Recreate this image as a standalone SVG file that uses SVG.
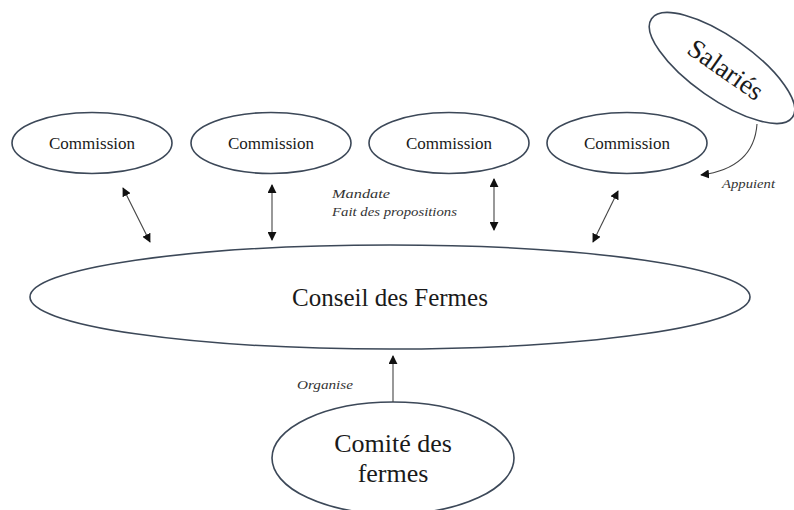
<svg xmlns="http://www.w3.org/2000/svg" width="794" height="510" viewBox="0 0 794 510">
<style>
.node{fill:#ffffff;stroke:#3c4858;stroke-width:1.6}
.lbl{fill:#1a1a1a;text-anchor:middle}
.it{font-style:italic;fill:#333333}
.conn{fill:none;stroke:#444444;stroke-width:1.1}
</style>
<defs>
<marker id="ah" viewBox="0 0 10 10" refX="9" refY="5" markerWidth="9" markerHeight="9" markerUnits="userSpaceOnUse" orient="auto-start-reverse">
<path d="M0,0 L10,5 L0,10 Z" fill="#111111"/>
</marker>
</defs>
<rect width="794" height="510" fill="#ffffff"/>
<g font-family="'Liberation Serif', 'Times New Roman', serif">
<g id="commission1"><ellipse class="node" cx="92" cy="143" rx="80" ry="30.5"/><text class="lbl" x="92" y="149" font-size="17">Commission</text></g>
<g id="commission2"><ellipse class="node" cx="271" cy="143" rx="80" ry="30.5"/><text class="lbl" x="271" y="149" font-size="17">Commission</text></g>
<g id="commission3"><ellipse class="node" cx="449" cy="143" rx="80" ry="30.5"/><text class="lbl" x="449" y="149" font-size="17">Commission</text></g>
<g id="commission4"><ellipse class="node" cx="627" cy="143" rx="80" ry="30.5"/><text class="lbl" x="627" y="149" font-size="17">Commission</text></g>

<g id="salaries"><ellipse class="node" cx="722" cy="68" rx="86" ry="31" transform="rotate(35 722 68)"/><text class="lbl" x="724" y="78" font-size="27" transform="rotate(35 724 72)">Salariés</text></g>

<g id="conseil"><ellipse class="node" cx="390" cy="297" rx="360" ry="52"/><text class="lbl" x="390" y="306" font-size="25">Conseil des Fermes</text></g>

<g id="comite"><ellipse class="node" cx="393" cy="458" rx="121" ry="56"/><text class="lbl" x="393" y="452" font-size="26">Comité des</text><text class="lbl" x="393" y="482" font-size="26">fermes</text></g>

<g id="connectors">
<line class="conn" x1="123" y1="188" x2="150" y2="242" marker-start="url(#ah)" marker-end="url(#ah)"/>
<line class="conn" x1="272" y1="185" x2="272" y2="240" marker-start="url(#ah)" marker-end="url(#ah)"/>
<line class="conn" x1="494" y1="179" x2="494" y2="230" marker-start="url(#ah)" marker-end="url(#ah)"/>
<line class="conn" x1="618" y1="191" x2="593" y2="242" marker-start="url(#ah)" marker-end="url(#ah)"/>
<path class="conn" d="M757,124 Q754,168 701,175" marker-end="url(#ah)"/>
<line class="conn" x1="393" y1="402" x2="393" y2="356" marker-end="url(#ah)"/>
</g>

<g id="labels">
<text class="it" x="332" y="198" font-size="13" textLength="58" lengthAdjust="spacingAndGlyphs">Mandate</text>
<text class="it" x="332" y="216" font-size="13" textLength="125" lengthAdjust="spacingAndGlyphs">Fait des propositions</text>
<text class="it" x="297" y="389" font-size="13" textLength="56" lengthAdjust="spacingAndGlyphs">Organise</text>
<text class="it" x="722" y="188" font-size="13" textLength="53" lengthAdjust="spacingAndGlyphs">Appuient</text>
</g>
</g>
</svg>
